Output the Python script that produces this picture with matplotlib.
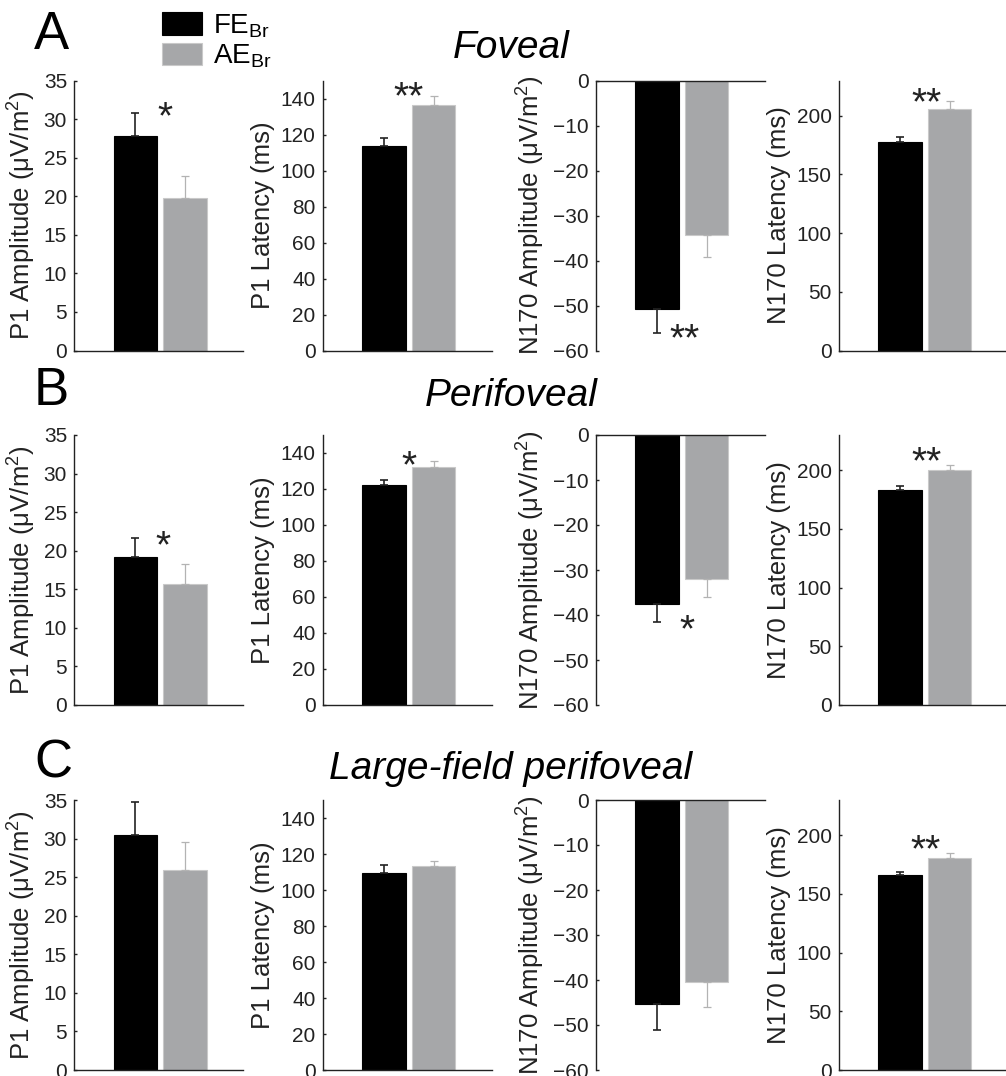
import matplotlib
matplotlib.use("Agg")
import matplotlib.pyplot as plt
import numpy as np

plt.rcParams['font.family'] = ['Liberation Sans', 'DejaVu Sans']
plt.rcParams['mathtext.default'] = 'regular'

# ---- data -------------------------------------------------------------
conditions = ["Foveal", "Perifoveal", "Large-field perifoveal"]
panel_letters = ["A", "B", "C"]
measures = ["P1 Amplitude (μV/m$^2$)", "P1 Latency (ms)",
            "N170 Amplitude (μV/m$^2$)", "N170 Latency (ms)"]
groups = ["FE$_{Br}$", "AE$_{Br}$"]

# rows: conditions, columns: P1 amp, P1 lat, N170 amp, N170 lat
fe_mean = [[27.8, 113.7, -50.7, 177.9],
           [19.2, 122.2, -37.5, 182.9],
           [30.5, 109.7, -45.3, 165.8]]
fe_sem = [[3.0, 4.1, 5.4, 4.2],
          [2.5, 2.8, 4.1, 3.4],
          [4.2, 4.3, 5.9, 3.1]]
ae_mean = [[19.8, 136.5, -34.3, 206.0],
           [15.7, 132.2, -32.0, 200.0],
           [25.9, 113.1, -40.5, 180.8]]
ae_sem = [[2.8, 4.8, 4.9, 6.8],
          [2.6, 3.3, 4.0, 4.6],
          [3.6, 3.0, 5.5, 4.2]]
significance = [["*", "**", "**", "**"],
                ["*", "*", "*", "**"],
                ["", "", "", "**"]]

# axis ranges and ticks per measure
ylims = [(0, 35), (0, 150), (-60, 0), (0, 230)]
yticks = [np.arange(0, 36, 5), np.arange(0, 141, 20),
          np.arange(-60, 1, 10), np.arange(0, 201, 50)]

# ---- layout -----------------------------------------------------------
W, H = 1006, 1076
fig = plt.figure(figsize=(W / 100, H / 100), dpi=100)

col_left = [74, 322.5, 595.5, 838.5]
ax_w = 169
row_top = [80.5, 435, 800]
ax_h = 270

# star anchor (x, y in data units) for each panel
star_pos = [[(1.60, 31.7), (1.50, 147), (1.55, -55.1), (1.53, 220.4)],
            [(1.56, 22.0), (1.50, 139), (1.60, -40.9), (1.53, 216.2)],
            [None, None, None, (1.52, 197)]]

title_baseline = [58, 406.5, 779]
letter_baseline = [49, 405, 777]

black = "#000000"
grey = "#a6a7a9"
grey_edge = "#c9c9c9"
grey_err = "#b3b3b3"
ink = "#222222"
star_fs = 28

handles = None
for r in range(3):
    for c in range(4):
        left = col_left[c] / W
        bottom = 1 - (row_top[r] + ax_h) / H
        ax = fig.add_axes([left, bottom, ax_w / W, ax_h / H])
        x = np.array([1, 2])
        vals = [fe_mean[r][c], ae_mean[r][c]]
        errs = [fe_sem[r][c], ae_sem[r][c]]
        b1 = ax.bar(x[0], vals[0], width=0.88, color=black, edgecolor=black,
                    linewidth=0.8, zorder=2)
        b2 = ax.bar(x[1], vals[1], width=0.88, color=grey, edgecolor=grey_edge,
                    linewidth=0.8, zorder=2)
        if handles is None:
            handles = [b1, b2]
        for xi, v, e, col, lw in zip(x, vals, errs, [ink, grey_err], [1.2, 0.9]):
            yerr = [[0], [e]] if v >= 0 else [[e], [0]]
            ax.errorbar([xi], [v], yerr=yerr, fmt='none', ecolor=col,
                        elinewidth=lw, capsize=3, capthick=lw, zorder=3)
        ax.set_xlim(-0.24, 3.17)
        ax.set_ylim(*ylims[c])
        ax.set_yticks(yticks[c])
        ax.set_xticks([])
        ax.tick_params(axis='y', direction='in', length=2.5, width=1.0,
                       color=ink, labelsize=15, labelcolor=ink, pad=5)
        for s in ax.spines.values():
            s.set_color(ink)
            s.set_linewidth(1.0)
        ax.spines['right'].set_visible(False)
        if c == 2:
            ax.spines['bottom'].set_visible(False)
        else:
            ax.spines['top'].set_visible(False)
        ax.set_ylabel(measures[c], fontsize=18.5, color=ink, labelpad=4)
        sp = star_pos[r][c]
        if significance[r][c] and sp is not None:
            ax.annotate(significance[r][c], xy=sp, xytext=(0, -0.57 * star_fs),
                        textcoords='offset points', ha='center', va='baseline',
                        fontsize=star_fs, color=ink)

    fig.text(511 / W, 1 - title_baseline[r] / H, conditions[r], fontsize=28,
             style='italic', ha='center', va='baseline', color='black')
    fig.text(34 / W, 1 - letter_baseline[r] / H, panel_letters[r], fontsize=38,
             ha='left', va='baseline', color='black')

fig.legend(handles, groups, loc='upper left',
           bbox_to_anchor=(161.5 / W, 1 - 12 / H), frameon=False,
           fontsize=20, handlelength=1.44, handleheight=0.86,
           labelspacing=0.12, handletextpad=0.4, borderpad=0,
           borderaxespad=0)

fig.savefig("out.png", dpi=100)
